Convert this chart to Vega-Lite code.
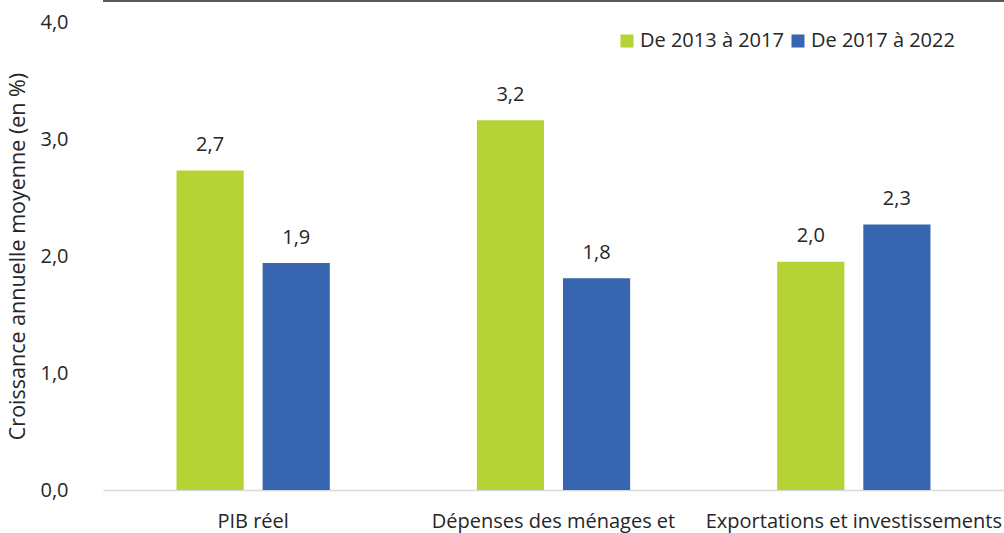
{
  "$schema": "https://vega.github.io/schema/vega-lite/v6.json",
  "width": 901,
  "height": 468,
  "autosize": {"type": "none"},
  "padding": {"left": 103, "top": 22, "right": 0, "bottom": 43},
  "background": "white",
  "config": {
    "font": "Open Sans",
    "view": {"stroke": null},
    "axis": {"labelFont": "Open Sans", "titleFont": "Open Sans", "labelColor": "#262626", "titleColor": "#262626"}
  },
  "data": {
    "values": [
      {"cat": "PIB réel", "period": "De 2013 à 2017", "value": 2.73, "label": "2,7"},
      {"cat": "PIB réel", "period": "De 2017 à 2022", "value": 1.94, "label": "1,9"},
      {"cat": "Dépenses des ménages et", "period": "De 2013 à 2017", "value": 3.16, "label": "3,2"},
      {"cat": "Dépenses des ménages et", "period": "De 2017 à 2022", "value": 1.81, "label": "1,8"},
      {"cat": "Exportations et investissements", "period": "De 2013 à 2017", "value": 1.95, "label": "2,0"},
      {"cat": "Exportations et investissements", "period": "De 2017 à 2022", "value": 2.27, "label": "2,3"}
    ]
  },
  "layer": [
    {
      "encoding": {
        "x": {
          "field": "cat", "type": "nominal", "sort": null,
          "scale": {"paddingInner": 0, "paddingOuter": 0},
          "axis": {"title": null, "labelAngle": 0, "ticks": false, "domainColor": "#d9d9d9", "domainWidth": 1.5, "labelFontSize": 20, "labelPadding": 21, "labelBaseline": "top", "labelLimit": 400}
        },
        "y": {
          "field": "value", "type": "quantitative",
          "scale": {"domain": [0, 4]},
          "axis": {"title": "Croissance annuelle moyenne (en %)", "values": [0, 1, 2, 3, 4], "labelExpr": "replace(format(datum.value, '.1f'), '.', ',')", "grid": false, "domain": false, "ticks": false, "labelPadding": 35, "labelFontSize": 20, "titleFontSize": 21.5, "titleFontWeight": "normal", "titlePadding": 10}
        },
        "xOffset": {"field": "period", "type": "nominal", "scale": {"paddingInner": 0.22, "paddingOuter": 0.854}}
      },
      "layer": [
        {
          "mark": {"type": "bar"},
          "encoding": {
            "color": {
              "field": "period", "type": "nominal",
              "scale": {"domain": ["De 2013 à 2017", "De 2017 à 2022"], "range": ["#b5d334", "#3765b0"]},
              "legend": {"title": null, "orient": "none", "direction": "horizontal", "legendX": 514, "legendY": 9, "symbolType": "square", "symbolSize": 170, "symbolStrokeWidth": 0, "symbolOpacity": 1, "labelFontSize": 20, "labelFont": "Open Sans", "labelColor": "#262626", "labelOffset": 3, "columnPadding": 4}
            }
          }
        },
        {
          "mark": {"type": "text", "fontSize": 20, "color": "#262626", "baseline": "middle", "dy": -25.5},
          "encoding": {"text": {"field": "label"}}
        }
      ]
    },
    {
      "mark": {"type": "rule", "color": "#595959", "strokeWidth": 2},
      "encoding": {"y": {"datum": 4.18, "type": "quantitative"}}
    }
  ]
}
